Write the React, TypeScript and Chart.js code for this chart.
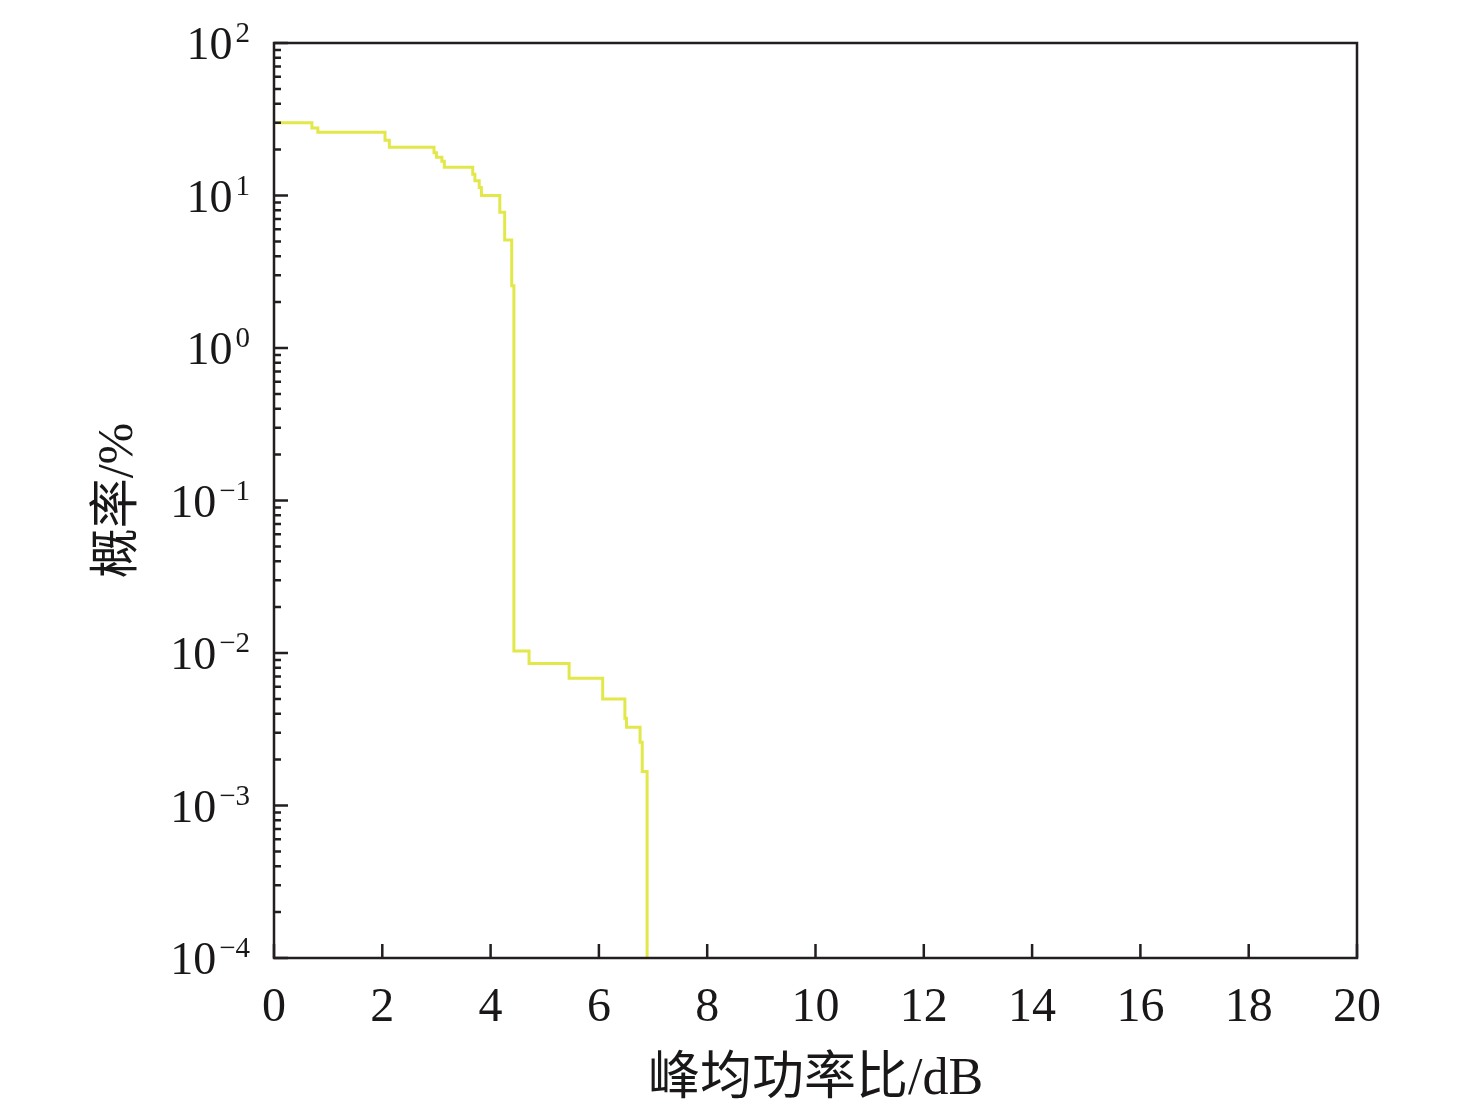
import React, { useEffect, useRef } from "react";
import { Chart, registerables } from "chart.js";

Chart.register(...registerables);

// Step curve: x = PAPR threshold (dB), y = probability (%)
const paprX = [0, 0.7, 0.81, 2.05, 2.13, 2.955, 3.0, 3.1, 3.145, 3.67, 3.71, 3.79, 3.83, 4.17, 4.26, 4.39, 4.43, 4.71, 5.45, 6.07, 6.48, 6.51, 6.76, 6.8, 6.89];
const probY = [30, 27.7, 26, 23, 20.7, 19.1, 17.8, 16.8, 15.3, 13.8, 12.5, 11.3, 10.0, 7.76, 5.1, 2.56, 0.0103, 0.00855, 0.00683, 0.005, 0.00373, 0.00326, 0.0026, 0.00167, 1e-6];

const xTicks = [0, 2, 4, 6, 8, 10, 12, 14, 16, 18, 20];
const yExponents = [-4, -3, -2, -1, 0, 1, 2];
const xTitle = "峰均功率比/dB";
const yTitle = "概率/%";

const AXIS = "#231f20";
const LINE = "#e2e84a";
const SERIF = "'Liberation Serif', 'Noto Sans CJK SC', serif";

const axesPlugin = {
  id: "customAxes",
  afterDraw(chart: any) {
    const { ctx, chartArea: a } = chart;
    const xs = chart.scales.x;
    const ys = chart.scales.y;
    ctx.save();
    ctx.strokeStyle = AXIS;
    ctx.lineWidth = 2.5;
    ctx.lineCap = "square";
    ctx.beginPath();
    ctx.rect(a.left, a.top, a.right - a.left, a.bottom - a.top);
    ctx.stroke();

    ctx.lineCap = "butt";
    // x ticks (inward)
    ctx.beginPath();
    xTicks.forEach((v) => {
      const px = xs.getPixelForValue(v);
      ctx.moveTo(px, a.bottom);
      ctx.lineTo(px, a.bottom - 14);
    });
    // y ticks (inward), major & minor
    yExponents.forEach((e, i) => {
      const py = ys.getPixelForValue(Math.pow(10, e));
      ctx.moveTo(a.left, py);
      ctx.lineTo(a.left + 14, py);
      if (i < yExponents.length - 1) {
        for (let m = 2; m <= 9; m++) {
          const pm = ys.getPixelForValue(m * Math.pow(10, e));
          ctx.moveTo(a.left, pm);
          ctx.lineTo(a.left + 7, pm);
        }
      }
    });
    ctx.stroke();

    // x tick labels
    ctx.fillStyle = "#1a1718";
    ctx.font = `48px ${SERIF}`;
    ctx.textAlign = "center";
    ctx.textBaseline = "alphabetic";
    xTicks.forEach((v) => {
      ctx.fillText(String(v), xs.getPixelForValue(v), 1021);
    });

    // y tick labels 10^e
    const right = 250;
    yExponents.forEach((e) => {
      const py = ys.getPixelForValue(Math.pow(10, e));
      const expStr = e < 0 ? "\u2212" + Math.abs(e) : String(e);
      ctx.font = `46px ${SERIF}`;
      const w10 = ctx.measureText("10").width;
      ctx.font = `29px ${SERIF}`;
      const we = ctx.measureText(expStr).width;
      const x0 = right - we - 3 - w10;
      ctx.textAlign = "left";
      ctx.textBaseline = "alphabetic";
      ctx.font = `46px ${SERIF}`;
      ctx.fillText("10", x0, py + 16);
      ctx.font = `29px ${SERIF}`;
      ctx.fillText(expStr, x0 + w10 + 3, py - 1);
    });

    // axis titles
    ctx.font = `52px ${SERIF}`;
    ctx.textAlign = "center";
    ctx.textBaseline = "middle";
    ctx.fillText(xTitle, (a.left + a.right) / 2, 1080);

    ctx.save();
    ctx.translate(119, (a.top + a.bottom) / 2);
    ctx.rotate(-Math.PI / 2);
    ctx.font = `50px ${SERIF}`;
    ctx.fillText(yTitle, 0, 0);
    ctx.restore();

    ctx.restore();
  },
};

export default function App() {
  const ref = useRef<HTMLCanvasElement | null>(null);
  useEffect(() => {
    if (!ref.current) return;
    const data = paprX.map((x, i) => ({ x, y: probY[i] }));
    const chart = new Chart(ref.current, {
      type: "line",
      data: {
        datasets: [
          {
            data,
            borderColor: LINE,
            borderWidth: 3,
            stepped: "before",
            pointRadius: 0,
            fill: false,
          },
        ],
      },
      options: {
        animation: false,
        responsive: false,
        maintainAspectRatio: false,
        layout: { padding: { top: 43, right: 119, left: 0, bottom: 0 } },
        plugins: { legend: { display: false }, tooltip: { enabled: false } },
        scales: {
          x: {
            type: "linear",
            min: 0,
            max: 20,
            grid: { display: false },
            border: { display: false },
            ticks: { display: false, stepSize: 2 },
            afterFit: (s: any) => {
              s.height = 156;
            },
          },
          y: {
            type: "logarithmic",
            min: 1e-4,
            max: 1e2,
            grid: { display: false },
            border: { display: false },
            ticks: { display: false },
            afterFit: (s: any) => {
              s.width = 274;
            },
          },
        },
      },
      plugins: [axesPlugin],
    } as any);
    return () => chart.destroy();
  }, []);
  return (
    <div style={{ position: "absolute", left: 0, top: 0, width: 1476, height: 1114, background: "#fff" }}>
      <canvas ref={ref} width={1476} height={1114} style={{ width: 1476, height: 1114 }} />
    </div>
  );
}
